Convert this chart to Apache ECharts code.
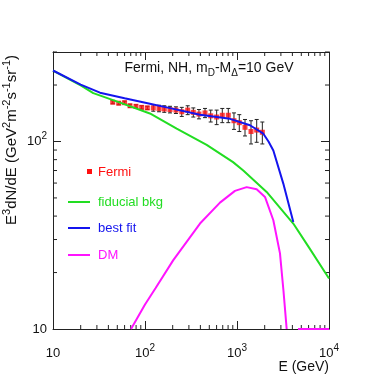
<!DOCTYPE html>
<html lang="en">
<head>
    <meta charset="UTF-8">
    <title>Fermi spectrum</title>
    <style>
        html, body {
            margin: 0;
            width: 100%;
            height: 100%;
            background: #ffffff;
            overflow: hidden;
        }

        #container {
            width: 382px;
            height: 382px;
        }
    </style>
</head>
<body>
<div id="container"></div>
<script src="https://cdn.jsdelivr.net/npm/echarts@6/dist/echarts.min.js"></script>
<script>
    // Fermi points (E in GeV, E^3 dN/dE) with +- error
    var fermiE = [44.6, 51.8, 60, 68.7, 79.8, 92, 106, 123, 142, 162, 187, 217, 251, 291, 335, 386, 449, 518, 601, 692, 804, 927, 1059, 1222, 1420, 1637, 1885];
    var fermiF = [162, 160, 161, 155, 154, 152, 151, 151, 150, 149, 148, 147, 144, 147, 143, 140, 142, 137, 135, 138, 138, 129, 126, 119, 113, 115, 112];
    var fermiErr = [3, 3, 3, 3, 3, 3, 3, 6, 6, 6, 6, 6, 8, 8, 8, 8, 8, 10, 12, 12, 12, 13, 13, 12, 16, 16, 15];

    // fiducial background
    var bkgE = [10, 20, 27.4, 50, 113, 221, 468, 906, 1170, 2100, 4090, 6000, 10000];
    var bkgF = [239, 199, 181, 163, 141, 117, 96, 77.6, 70, 53.8, 36.5, 27.4, 18.6];

    // best fit
    var fitE = [10, 20, 32.4, 60, 113, 172, 396, 839, 1384, 1933, 2200, 2483, 3187, 4093];
    var fitF = [239, 201, 182, 170, 159, 152, 139, 132, 122, 110, 100, 89.6, 59.6, 37.2];

    // DM (null = break, the last piece lies on the frame)
    var dmE = [70.5, 100, 130, 203, 396, 653, 950, 1273, 1636, 2014, 2483, 2932, 3200, 3467, 4000, 4600, 10000];
    var dmF = [10, 13.5, 16.5, 23.3, 36.5, 47.2, 54.5, 57.1, 55.6, 50.6, 38, 25.3, 16, 10, null, 10, 10];

    // axis
    var xMin = 10, xMax = 10000, yMin = 10, yMax = 300;
    var xMinor = [20, 30, 40, 50, 60, 70, 80, 90, 200, 300, 400, 500, 600, 700, 800, 900, 2000, 3000, 4000, 5000, 6000, 7000, 8000, 9000];
    var yMinor = [20, 30, 40, 50, 60, 70, 80, 90, 200, 300];

    var FONT = 'Liberation Sans, Arial, sans-serif';
    var RED = '#ff1010', GREEN = '#22dd22', BLUE = '#1414ee', MAG = '#ff14ff', AX = '#222222';

    function zip(a, b) {
        var out = [];
        for (var i = 0; i < a.length; i++) out.push([a[i], b[i] === null ? '-' : b[i]]);
        return out;
    }

    var errData = [];
    for (var i = 0; i < fermiE.length; i++) {
        errData.push([fermiE[i], fermiF[i] - fermiErr[i], fermiF[i] + fermiErr[i]]);
    }

    function tickFmt(v) {
        var e = Math.round(Math.log(v) / Math.LN10);
        if (Math.abs(Math.pow(10, e) - v) > 1e-6) return '';
        if (e === 1) return '10';
        return '10{sup|' + e + '}';
    }

    var supRich = {sup: {fontSize: 10, lineHeight: 10, verticalAlign: 'top', fontFamily: FONT, color: '#111'}};

    function logAxis(pos, min, max, showLabel) {
        return {
            type: 'log',
            logBase: 10,
            position: pos,
            min: min,
            max: max,
            splitLine: {show: false},
            axisLine: {show: true, lineStyle: {color: AX, width: 1}},
            axisTick: {show: true, inside: true, length: 8, lineStyle: {color: AX}},
            axisLabel: {
                show: showLabel,
                formatter: tickFmt,
                fontFamily: FONT,
                fontSize: 13,
                color: '#111',
                lineHeight: 20,
                rich: supRich
            }
        };
    }

    var xBottom = logAxis('bottom', xMin, xMax, true);
    xBottom.axisLabel.margin = 14;
    var yLeft = logAxis('left', yMin, yMax, true);
    yLeft.axisLabel.margin = 6;

    var myChart = echarts.init(document.getElementById('container'));
    var option = {
        animation: false,
        grid: {left: 53, right: 53, top: 52, bottom: 53, containLabel: false, outerBoundsMode: 'none'},
        xAxis: [xBottom, logAxis('top', xMin, xMax, false)],
        yAxis: [yLeft, logAxis('right', yMin, yMax, false)],
        graphic: [
            {
                type: 'text', x: 12, y: 55, rotation: Math.PI / 2,
                style: {
                    text: 'E{sup|3}dN/dE (GeV{sup|2}m{sup|-2}s{sup|-1}sr{sup|-1})',
                    font: '15px ' + FONT, fill: '#111', align: 'right', verticalAlign: 'middle', lineHeight: 22,
                    rich: {sup: {fontSize: 11, lineHeight: 11, verticalAlign: 'top', fill: '#111'}}
                }
            },
            {
                type: 'text', x: 329, y: 367,
                style: {text: 'E (GeV)', font: '14px ' + FONT, fill: '#111', align: 'right', verticalAlign: 'middle'}
            },
            {
                type: 'text', x: 209, y: 68,
                style: {
                    text: 'Fermi, NH, m{sub|D}-M{sub|Δ}=10 GeV',
                    font: '14px ' + FONT, fill: '#111', align: 'center', verticalAlign: 'middle', lineHeight: 20,
                    rich: {sub: {fontSize: 10, lineHeight: 10, verticalAlign: 'bottom', fill: '#111'}}
                }
            },
            {type: 'rect', shape: {x: 87, y: 169, width: 5, height: 5}, style: {fill: RED}},
            {type: 'text', x: 98, y: 172, style: {text: 'Fermi', font: '13px ' + FONT, fill: RED, verticalAlign: 'middle'}},
            {type: 'line', shape: {x1: 68, y1: 202, x2: 90, y2: 202}, style: {stroke: GREEN, lineWidth: 2}},
            {type: 'text', x: 98, y: 202, style: {text: 'fiducial bkg', font: '13px ' + FONT, fill: GREEN, verticalAlign: 'middle'}},
            {type: 'line', shape: {x1: 68, y1: 228, x2: 90, y2: 228}, style: {stroke: BLUE, lineWidth: 2}},
            {type: 'text', x: 98, y: 228, style: {text: 'best fit', font: '13px ' + FONT, fill: BLUE, verticalAlign: 'middle'}},
            {type: 'line', shape: {x1: 68, y1: 255, x2: 90, y2: 255}, style: {stroke: MAG, lineWidth: 2}},
            {type: 'text', x: 98, y: 255, style: {text: 'DM', font: '13px ' + FONT, fill: MAG, verticalAlign: 'middle'}}
        ],
        series: [
            {
                // minor ticks on bottom/top
                type: 'custom',
                silent: true,
                clip: false,
                data: xMinor.map(function (v) { return [v, yMin]; }),
                renderItem: function (params, api) {
                    var b = api.coord([api.value(0), yMin]);
                    var t = api.coord([api.value(0), yMax]);
                    var st = {stroke: AX, lineWidth: 1};
                    return {
                        type: 'group', children: [
                            {type: 'line', shape: {x1: b[0], y1: b[1], x2: b[0], y2: b[1] - 4}, style: st},
                            {type: 'line', shape: {x1: t[0], y1: t[1], x2: t[0], y2: t[1] + 4}, style: st}
                        ]
                    };
                }
            },
            {
                // minor ticks on left/right
                type: 'custom',
                silent: true,
                clip: false,
                data: yMinor.map(function (v) { return [xMin, v]; }),
                renderItem: function (params, api) {
                    var l = api.coord([xMin, api.value(1)]);
                    var r = api.coord([xMax, api.value(1)]);
                    var st = {stroke: AX, lineWidth: 1};
                    return {
                        type: 'group', children: [
                            {type: 'line', shape: {x1: l[0], y1: l[1], x2: l[0] + 4, y2: l[1]}, style: st},
                            {type: 'line', shape: {x1: r[0], y1: r[1], x2: r[0] - 4, y2: r[1]}, style: st}
                        ]
                    };
                }
            },
            {
                name: 'fiducial bkg',
                type: 'line',
                data: zip(bkgE, bkgF),
                showSymbol: false,
                lineStyle: {color: GREEN, width: 2}
            },
            {
                name: 'DM',
                type: 'line',
                data: zip(dmE, dmF),
                showSymbol: false,
                clip: false,
                connectNulls: false,
                lineStyle: {color: MAG, width: 2}
            },
            {
                name: 'Fermi err',
                type: 'custom',
                data: errData,
                encode: {x: 0, y: [1, 2]},
                renderItem: function (params, api) {
                    var lo = api.coord([api.value(0), api.value(1)]);
                    var hi = api.coord([api.value(0), api.value(2)]);
                    var st = {stroke: '#222', lineWidth: 1};
                    return {
                        type: 'group', children: [
                            {type: 'line', shape: {x1: lo[0], y1: lo[1], x2: hi[0], y2: hi[1]}, style: st},
                            {type: 'line', shape: {x1: lo[0] - 2, y1: lo[1], x2: lo[0] + 2, y2: lo[1]}, style: st},
                            {type: 'line', shape: {x1: hi[0] - 2, y1: hi[1], x2: hi[0] + 2, y2: hi[1]}, style: st}
                        ]
                    };
                }
            },
            {
                name: 'Fermi',
                type: 'scatter',
                data: zip(fermiE, fermiF),
                symbol: 'rect',
                symbolSize: 5,
                itemStyle: {color: RED}
            },
            {
                name: 'best fit',
                type: 'line',
                data: zip(fitE, fitF),
                showSymbol: false,
                lineStyle: {color: BLUE, width: 2}
            }
        ]
    };

    myChart.setOption(option);
</script>
</body>
</html>
